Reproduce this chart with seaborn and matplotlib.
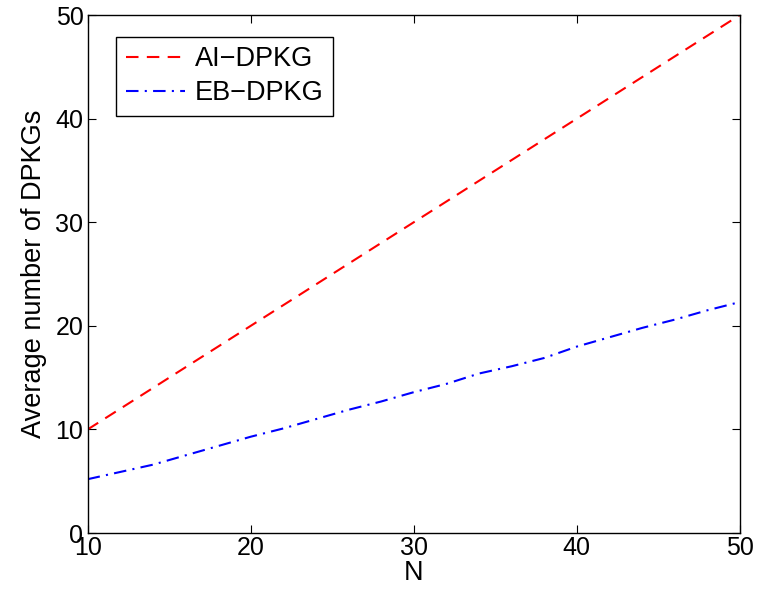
import pandas as pd
import matplotlib.pyplot as plt
import seaborn as sns

# values
n_values = [10, 12, 14, 16, 18, 20, 22, 24, 26, 28, 30, 32, 34, 36, 38, 40, 42, 44, 46, 48, 50]
ai_dpkg = [10, 12, 14, 16, 18, 20, 22, 24, 26, 28, 30, 32, 34, 36, 38, 40, 42, 44, 46, 48, 50]
eb_dpkg = [5.2, 5.9, 6.6, 7.5, 8.4, 9.3, 10.1, 11.0, 11.9, 12.7, 13.6, 14.4, 15.4, 16.1, 16.9,
           18.0, 18.9, 19.8, 20.6, 21.5, 22.3]

df = pd.DataFrame({'N': n_values, 'AI-DPKG': ai_dpkg, 'EB-DPKG': eb_dpkg})

sns.set_style('ticks')
plt.rcParams['font.family'] = ['Liberation Sans', 'DejaVu Sans']
plt.rcParams['text.color'] = 'black'
plt.rcParams['axes.labelcolor'] = 'black'
plt.rcParams['xtick.color'] = 'black'
plt.rcParams['ytick.color'] = 'black'

fig = plt.figure(figsize=(7.62, 6.01), dpi=100)
ax = fig.add_axes([0.115, 0.113, 0.856, 0.862])

sns.lineplot(data=df, x='N', y='AI-DPKG', color='red', linestyle=(0, (6, 4)),
             linewidth=1.5, label='AI\u2212DPKG', ax=ax)
sns.lineplot(data=df, x='N', y='EB-DPKG', color='blue', linestyle=(0, (6, 3, 1, 3)),
             linewidth=1.5, label='EB\u2212DPKG', ax=ax)

ax.set_xlim(10, 50)
ax.set_ylim(0, 50)
ax.set_xticks([10, 20, 30, 40, 50])
ax.set_yticks([0, 10, 20, 30, 40, 50])
ax.tick_params(direction='in', top=True, right=True, labelsize=18, length=6, width=0.8)
ax.tick_params(axis='x', pad=2)
ax.tick_params(axis='y', pad=3)
for s in ax.spines.values():
    s.set_linewidth(1.0)
    s.set_color('black')
ax.set_xlabel('N', fontsize=19.5, labelpad=0)
ax.set_ylabel('Average number of DPKGs', fontsize=19.5, labelpad=6)

leg = ax.legend(loc='upper left', bbox_to_anchor=(0.044, 0.958), borderaxespad=0,
                fontsize=19.5, frameon=True, fancybox=False, handlelength=2.2,
                handletextpad=0.35, labelspacing=0.3, borderpad=0.35)
leg.get_frame().set_edgecolor('black')
leg.get_frame().set_linewidth(1.0)
leg.get_frame().set_alpha(1)

plt.savefig('out.png', dpi=100)
